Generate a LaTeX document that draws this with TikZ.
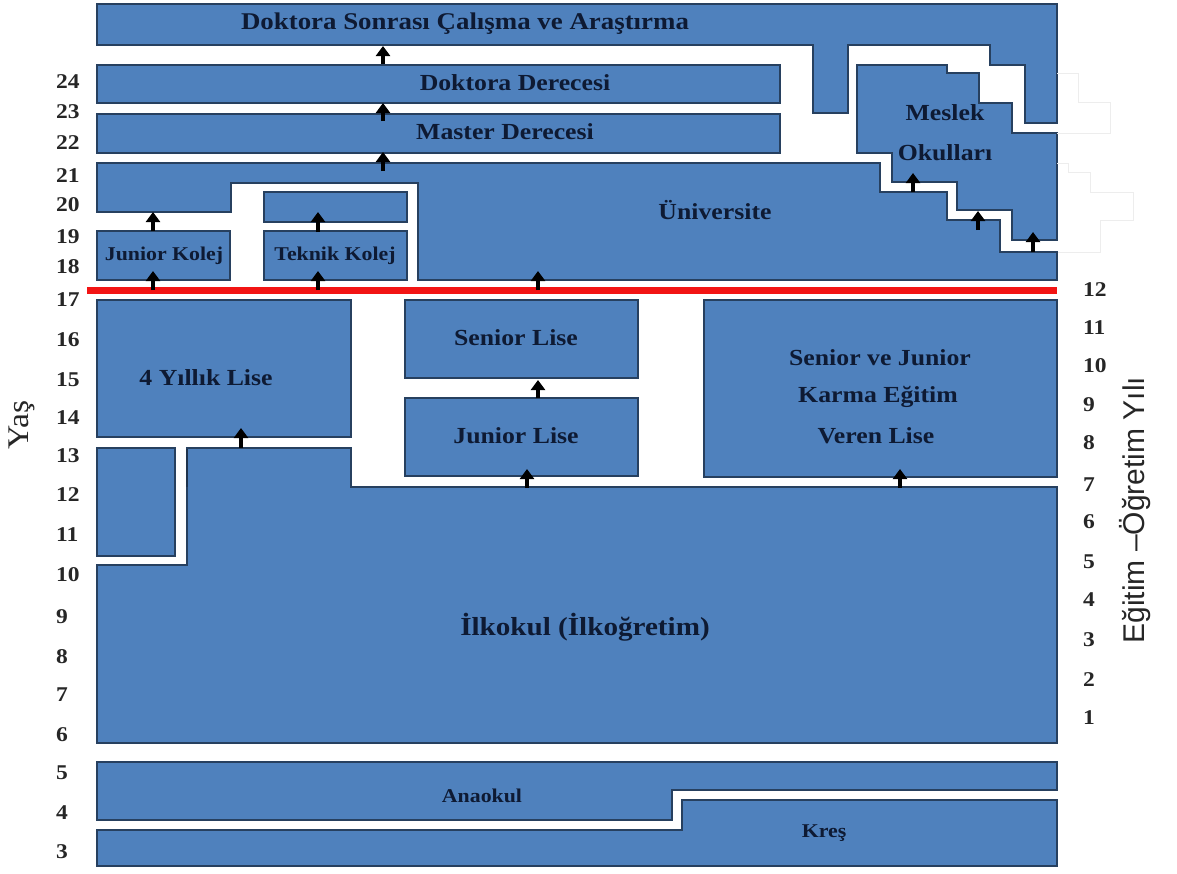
\documentclass[tikz,border=0pt]{standalone}
\usepackage{fontspec}
\setmainfont{Liberation Serif}[FakeStretch=1.12]
\newfontfamily\axisfont{Liberation Sans}
\usetikzlibrary{arrows.meta}
\definecolor{boxblue}{HTML}{4F81BD}
\definecolor{boxedge}{HTML}{27405F}
\definecolor{labelink}{HTML}{0E1A33}
\definecolor{barred}{HTML}{F21414}
\newcommand\fsz[1]{\fontsize{#1}{#1}\selectfont}
\tikzset{
  block/.style={fill=boxblue, draw=boxedge, line width=1.1pt},
  lbl/.style={text=labelink, font=\bfseries\fsz{23}, inner sep=0pt},
  lblsmall/.style={text=labelink, font=\bfseries\fsz{19.5}, inner sep=0pt},
  num/.style={text=black!85, font=\bfseries\fsz{21}, inner sep=0pt, anchor=west},
  uparrow/.style={black, line width=4pt, -{Triangle[width=14pt,length=10pt]}},
  ghost/.style={draw=black!7, line width=0.8pt},
}
\begin{document}
\begin{tikzpicture}[x=1pt,y=-1pt]
\useasboundingbox (0,0) rectangle (1177,873);

% ---- higher education ----
\draw[block] (97,4) -- (1057,4) -- (1057,123) -- (1025,123) -- (1025,65) -- (990,65)
  -- (990,45) -- (848,45) -- (848,113) -- (813,113) -- (813,45) -- (97,45) -- cycle;
\node[lbl, font=\bfseries\fsz{24}] (postdoc) at (465,24) {Doktora Sonrası Çalışma ve Araştırma};

\draw[block] (97,65) rectangle (780,103);
\node[lbl] (phd) at (515,83) {Doktora Derecesi};

\draw[block] (97,114) rectangle (780,153);
\node[lbl] (master) at (505,132) {Master Derecesi};

\draw[block] (857,65) -- (947,65) -- (947,73) -- (979,73) -- (979,103) -- (1012,103)
  -- (1012,133) -- (1057,133) -- (1057,240) -- (1012,240) -- (1012,210) -- (957,210)
  -- (957,182) -- (892,182) -- (892,153) -- (857,153) -- cycle;
\node[lbl] (meslek1) at (945,113) {Meslek};
\node[lbl] (meslek2) at (945,153) {Okulları};

% faint step outlines to the right of the frame
\draw[ghost] (1057,73) -- (1078,73) -- (1078,102) -- (1110,102) -- (1110,133) -- (1057,133);
\draw[ghost] (1057,163) -- (1068,163) -- (1068,172) -- (1090,172) -- (1090,192) -- (1133,192)
  -- (1133,220) -- (1100,220) -- (1100,252) -- (1057,252);

\draw[block] (97,163) -- (880,163) -- (880,192) -- (947,192) -- (947,220) -- (1000,220)
  -- (1000,252) -- (1057,252) -- (1057,280) -- (418,280) -- (418,183) -- (231,183)
  -- (231,212) -- (97,212) -- cycle;
\node[lbl] (uni) at (715,210) {Üniversite};

\draw[block] (97,231) rectangle (230,280);
\node[lblsmall] (jkolej) at (164,256) {Junior Kolej};
\draw[block] (264,231) rectangle (407,280);
\node[lblsmall] (tkolej) at (335,256) {Teknik Kolej};
\draw[block] (264,192) rectangle (407,222);

% ---- age 18 line ----
\draw[barred, line width=7pt] (87,290) -- (1057,290);

% ---- secondary ----
\draw[block] (97,300) rectangle (351,437);
\node[lbl] (lise4) at (206,378) {4 Yıllık Lise};
\draw[block] (97,448) rectangle (175,556);

\draw[block] (405,300) rectangle (638,378);
\node[lbl] (slise) at (516,338) {Senior Lise};
\draw[block] (405,398) rectangle (638,476);
\node[lbl] (jlise) at (516,436) {Junior Lise};

\draw[block] (704,300) rectangle (1057,477);
\node[lbl] (karma1) at (880,358) {Senior ve Junior};
\node[lbl] (karma2) at (878,397) {Karma Eğitim};
\node[lbl] (karma3) at (876,436) {Veren Lise};

% ---- primary ----
\draw[block] (97,565) -- (187,565) -- (187,448) -- (351,448) -- (351,487) -- (1057,487)
  -- (1057,743) -- (97,743) -- cycle;
\draw[boxedge!80!black, line width=2.5pt] (187,449) -- (187,487);
\node[lbl, font=\bfseries\fsz{26}] (ilk) at (585,627) {İlkokul (İlkoğretim)};

% ---- pre-school ----
\draw[block] (97,762) -- (1057,762) -- (1057,790) -- (672,790) -- (672,820) -- (97,820) -- cycle;
\node[lblsmall] (ana) at (482,796) {Anaokul};
\draw[block] (682,800) -- (1057,800) -- (1057,866) -- (97,866) -- (97,830) -- (682,830) -- cycle;
\node[lblsmall] (kres) at (824,833) {Kreş};

% ---- transitions ----
\foreach \x/\ya/\yb in {383/64/46, 383/121/103, 383/171/152,
    153/231/212, 318/232/212, 153/290/271, 318/290/271, 538/290/271,
    913/192/173, 978/230/211, 1033/252/232,
    241/448/428, 538/398/380, 527/488/469, 900/488/469}
  \draw[uparrow] (\x,\ya) -- (\x,\yb);

% ---- age axis ----
\foreach \a/\y in {24/82, 23/112, 22/143, 21/176, 20/205, 19/237, 18/267, 17/300,
    16/340, 15/380, 14/418, 13/456, 12/495, 11/535, 10/575, 9/617, 8/657, 7/695,
    6/735, 5/773, 4/813, 3/852}
  \node[num] (age\a) at (56,\y) {\a};
\node[rotate=90, font=\fsz{30}, text=black!85, inner sep=0pt] (yas) at (22,425) {Yaş};

% ---- school-year axis ----
\foreach \g/\y in {12/290, 11/328, 10/366, 9/405, 8/443, 7/485, 6/522, 5/562,
    4/600, 3/640, 2/680, 1/718}
  \node[num] (grade\g) at (1083,\y) {\g};
\node[rotate=90, font=\axisfont\fsz{30}, text=black!85, inner sep=0pt] (yil) at (1135,510) {Eğitim –Öğretim Yılı};
\end{tikzpicture}
\end{document}
